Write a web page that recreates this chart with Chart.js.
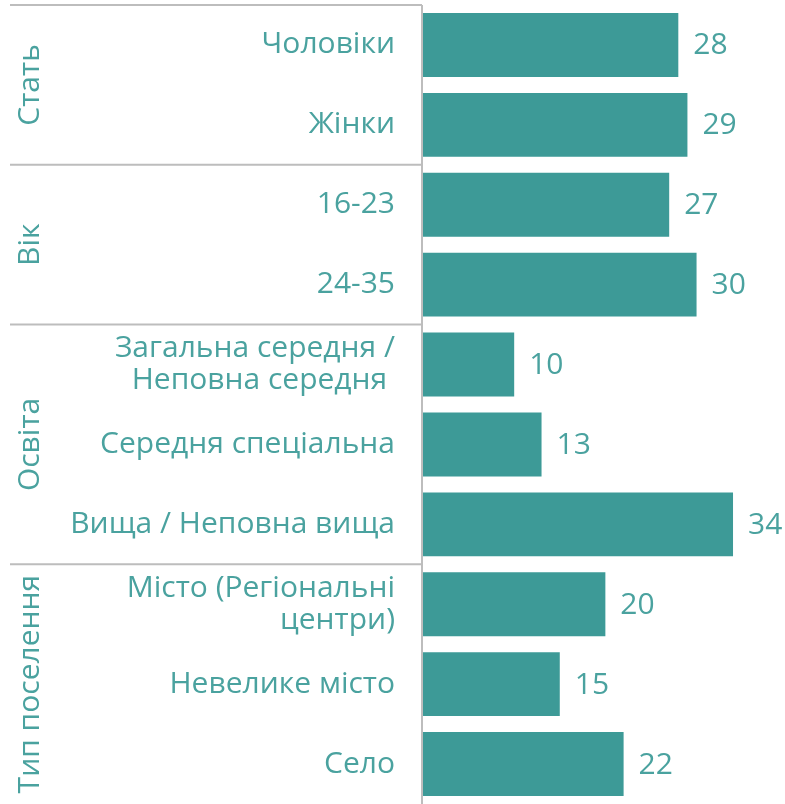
<!DOCTYPE html>
<html>
<head>
<meta charset="utf-8">
<script src="https://cdn.jsdelivr.net/npm/chart.js@4"></script>
<style>
  html, body { margin: 0; padding: 0; background: #fff; }
  #wrap { width: 785px; height: 804px; position: relative; }
</style>
</head>
<body>
<div id="wrap"><canvas id="cnv"></canvas></div>
<script>
const categories = [
  'Чоловіки', 'Жінки',
  '16-23', '24-35',
  ['Загальна середня /', 'Неповна середня '], 'Середня спеціальна', 'Вища / Неповна вища',
  ['Місто (Регіональні', 'центри)'], 'Невелике місто', 'Село'
];
const values = [28, 29, 27, 30, 10, 13, 34, 20, 15, 22];
const groupNames = ['Стать', 'Вік', 'Освіта', 'Тип поселення'];
const groupSizes = [2, 2, 3, 3];

const TEAL = '#3d9a97';
const TEXT = '#4aa29f';
const LINE = '#bdbdbd';
const FONT = "'Open Sans', sans-serif";

// separators, group titles and value labels
const extras = {
  id: 'extras',
  afterDatasetsDraw(chart) {
    const ctx = chart.ctx;
    const y = chart.scales.y;
    const area = chart.chartArea;
    const half = (y.getPixelForValue(1) - y.getPixelForValue(0)) / 2;

    ctx.save();
    ctx.strokeStyle = LINE;
    ctx.lineWidth = 2;
    // axis line
    ctx.beginPath();
    ctx.moveTo(area.left - 1, area.top);
    ctx.lineTo(area.left - 1, area.bottom);
    ctx.stroke();

    let start = 0;
    groupSizes.forEach((n, i) => {
      const top = y.getPixelForValue(start) - half;
      const bot = y.getPixelForValue(start + n - 1) + half;
      ctx.strokeStyle = LINE;
      ctx.beginPath();
      ctx.moveTo(10, top);
      ctx.lineTo(area.left - 1, top);
      ctx.stroke();

      ctx.save();
      ctx.translate(30, (top + bot) / 2);
      ctx.rotate(-Math.PI / 2);
      ctx.fillStyle = TEXT;
      ctx.font = '30px ' + FONT;
      ctx.textAlign = 'center';
      ctx.textBaseline = 'middle';
      ctx.fillText(groupNames[i], 0, 0);
      ctx.restore();
      start += n;
    });

    ctx.fillStyle = TEXT;
    ctx.font = '30px ' + FONT;
    ctx.textAlign = 'left';
    ctx.textBaseline = 'middle';
    chart.getDatasetMeta(0).data.forEach((bar, i) => {
      ctx.fillText(values[i], bar.x + 15, bar.y + 1);
    });
    ctx.restore();
  }
};

new Chart(document.getElementById('cnv'), {
  type: 'bar',
  data: {
    labels: categories,
    datasets: [{
      data: values,
      backgroundColor: TEAL,
      barPercentage: 0.8,
      categoryPercentage: 1
    }]
  },
  options: {
    indexAxis: 'y',
    responsive: true,
    maintainAspectRatio: false,
    animation: false,
    layout: { padding: { top: 5, bottom: 0, left: 0, right: 0 } },
    plugins: { legend: { display: false }, tooltip: { enabled: false } },
    scales: {
      x: {
        display: false,
        min: 0,
        max: 39.7
      },
      y: {
        border: { display: false },
        grid: { display: false },
        afterFit: s => {
          s.width = 423;
          s.paddingTop = 0;
          s.paddingBottom = 0;
        },
        ticks: {
          color: TEXT,
          padding: 20,
          font: { family: FONT, size: 30, lineHeight: 1.07 },
          autoSkip: false
        }
      }
    }
  },
  plugins: [extras]
});
</script>
</body>
</html>
